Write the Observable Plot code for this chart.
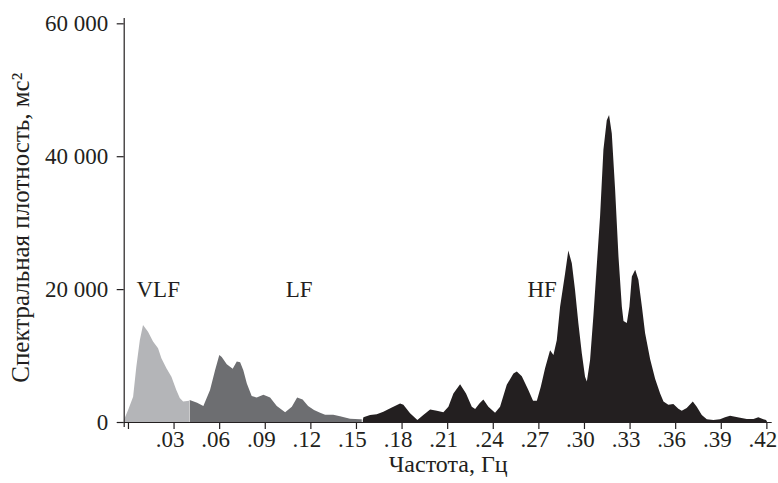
<!DOCTYPE html>
<html><head><meta charset="utf-8">
<script src="https://cdn.jsdelivr.net/npm/d3@7"></script>
<script src="https://cdn.jsdelivr.net/npm/@observablehq/plot@0.6"></script>
<style>html,body{margin:0;padding:0;background:#fff}</style>
</head><body><div id="chart"></div>
<script>
// Frequency (Hz) and spectral power (ms²)
const vlfFreq  = [-0.0027, 0.0001, 0.0034, 0.0055, 0.0078, 0.0099, 0.0132, 0.0165, 0.0198, 0.0220, 0.0253, 0.0286, 0.0318, 0.0341, 0.0363, 0.0402];
const vlfPower = [300, 1800, 3800, 8300, 12300, 14600, 13600, 12100, 11100, 9600, 8100, 6800, 4800, 3600, 3100, 3200];

const lfFreq  = [0.0406, 0.0455, 0.0496, 0.0540, 0.0573, 0.0601, 0.0617, 0.0650, 0.0689, 0.0716, 0.0738, 0.0759, 0.0782, 0.0814, 0.0847, 0.0891, 0.0935, 0.0979, 0.1034, 0.1078, 0.1113, 0.1149, 0.1185, 0.1224, 0.1264, 0.1297, 0.1351, 0.1395, 0.1461, 0.1527, 0.1538];
const lfPower = [3300, 2900, 2400, 4800, 7800, 10100, 9800, 8700, 8000, 9100, 9000, 7800, 5800, 3900, 3700, 4100, 3700, 2400, 1450, 2300, 3700, 3400, 2400, 1800, 1400, 1100, 1100, 850, 500, 400, 400];

const hfFreq  = [0.1545, 0.1549, 0.1593, 0.1637, 0.1680, 0.1736, 0.1790, 0.1812, 0.1856, 0.1904, 0.1943, 0.1988, 0.2032, 0.2075, 0.2108, 0.2141, 0.2185, 0.2224, 0.2262, 0.2284, 0.2312, 0.2338, 0.2371, 0.2415, 0.2448, 0.2492, 0.2536, 0.2558, 0.2591, 0.2634, 0.2665, 0.2690, 0.2716, 0.2744, 0.2777, 0.2799, 0.2821, 0.2843, 0.2876, 0.2897, 0.2920, 0.2941, 0.2963, 0.2986, 0.3007, 0.3019, 0.3040, 0.3062, 0.3084, 0.3106, 0.3128, 0.3150, 0.3165, 0.3183, 0.3205, 0.3227, 0.3249, 0.3260, 0.3282, 0.3299, 0.3315, 0.3337, 0.3358, 0.3381, 0.3402, 0.3435, 0.3468, 0.3501, 0.3523, 0.3555, 0.3588, 0.3621, 0.3643, 0.3676, 0.3716, 0.3742, 0.3775, 0.3808, 0.3851, 0.3895, 0.3928, 0.3961, 0.3994, 0.4027, 0.4071, 0.4115, 0.4147, 0.4180, 0.4198, 0.4205];
const hfPower = [300, 700, 1050, 1150, 1550, 2200, 2800, 2600, 1300, 300, 1050, 1900, 1700, 1450, 2300, 4300, 5700, 4300, 2300, 1950, 2800, 3400, 2300, 1400, 2300, 5600, 7300, 7600, 6900, 4800, 3200, 3200, 5300, 8100, 10800, 10100, 12300, 17400, 22400, 25800, 23900, 19900, 14900, 10300, 6800, 6100, 9300, 16000, 23500, 31000, 41000, 45400, 46200, 43400, 34900, 24900, 17400, 15200, 14900, 17400, 21900, 22900, 21400, 17400, 13400, 9500, 6500, 4300, 3100, 2600, 2700, 2000, 1700, 2100, 3100, 2300, 1050, 400, 300, 400, 700, 950, 800, 650, 450, 450, 700, 400, 300, 0];

const xTicks = [0, 0.03, 0.06, 0.09, 0.12, 0.15, 0.18, 0.21, 0.24, 0.27, 0.30, 0.33, 0.36, 0.39, 0.42];
const yTicks = [0, 20000, 40000, 60000];

const bandNames = ["VLF", "LF", "HF"];
const bandLabelFreq = [0.0053, 0.1034, 0.2625];
const bandLabelPower = [20000, 20000, 20000];

const xLabel = "Частота, Гц";
const yLabel = "Спектральная плотность, мс²";
const yLabelAt = {f: -0.0710, p: 29300};

const xDomain = [-0.0028, 0.4235];
const yDomain = [0, 60800];

const rows = (f, p) => f.map((x, i) => ({f: x, p: p[i]}));
const ink = "#231f20";
const fmtX = d => d === 0 ? "" : d3.format(".2f")(d).replace(/^0/, "");
const fmtY = d => d3.format(",")(d).replace(/,/g, " ");

const chart = Plot.plot({
  width: 778,
  height: 483,
  marginLeft: 123.7,
  marginRight: 6.3,
  marginTop: 18,
  marginBottom: 61,
  style: {fontFamily: "'Liberation Serif', 'Times New Roman', serif", fontSize: "23px", color: ink, background: "#fff"},
  x: {domain: xDomain},
  y: {domain: yDomain},
  marks: [
    Plot.areaY(rows(vlfFreq, vlfPower), {x: "f", y: "p", fill: "#b4b5b8"}),
    Plot.areaY(rows(lfFreq, lfPower), {x: "f", y: "p", fill: "#6d6e71"}),
    Plot.areaY(rows(hfFreq, hfPower), {x: "f", y: "p", fill: "#231f20"}),
    Plot.ruleY([0], {stroke: ink, strokeWidth: 1.2}),
    Plot.ruleX([xDomain[0]], {y1: -750, y2: yDomain[1], stroke: ink, strokeWidth: 1.2}),
    Plot.axisX({ticks: xTicks, tickSize: 7, tickPadding: 4, tickFormat: fmtX, label: null, stroke: ink, strokeWidth: 1.2, fill: ink}),
    Plot.axisX({ticks: xTicks, tickSize: 0, tickPadding: 8, tickFormat: fmtX, label: null, fill: ink, dx: -4, stroke: "none", fontSize: 23}),
    Plot.axisY({ticks: yTicks, tickSize: 7, tickPadding: 9, tickFormat: fmtY, label: null, stroke: ink, strokeWidth: 1.2, fill: ink, fontSize: 23}),
    Plot.text(bandNames, {x: (d, i) => bandLabelFreq[i], y: (d, i) => bandLabelPower[i], text: d => d, textAnchor: "start", fill: ink, fontSize: 23}),
    Plot.text([xLabel], {frameAnchor: "bottom", dy: 49, fill: ink, fontSize: 24}),
    Plot.text([yLabel], {x: () => yLabelAt.f, y: () => yLabelAt.p, rotate: -90, fill: ink, fontSize: 25})
  ]
});
// keep only the ticks from the first x axis and only the labels from the second
const axes = chart.querySelectorAll("g[aria-label='x-axis tick label']");
if (axes.length > 1) axes[0].remove();
document.getElementById("chart").appendChild(chart);
</script>
</body></html>
